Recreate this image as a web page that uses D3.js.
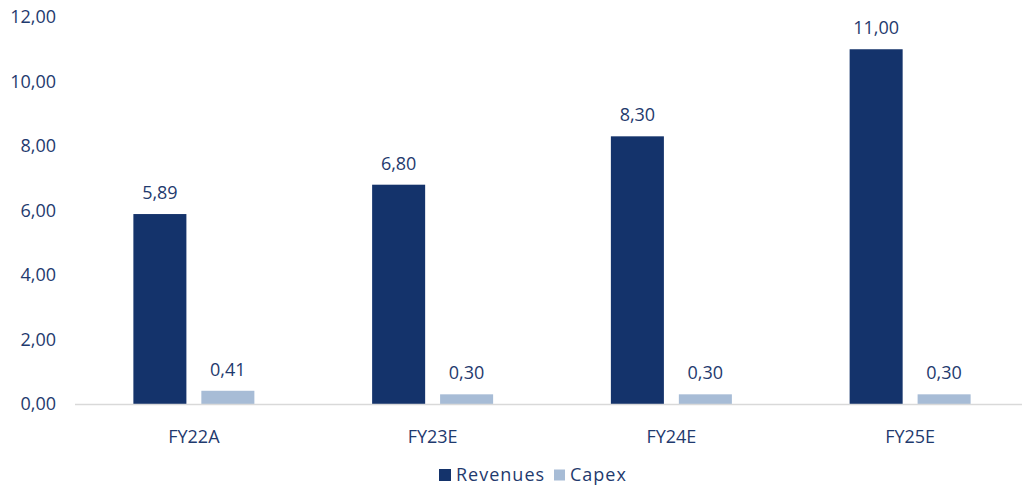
<!DOCTYPE html>
<html>
<head>
<meta charset="utf-8">
<script src="https://cdn.jsdelivr.net/npm/d3@7/dist/d3.min.js"></script>
<style>
  body { margin: 0; background: #fff; }
  text { font-family: "Open Sans", Lato, sans-serif; fill: #1f3a6e; }
</style>
</head>
<body>
<div id="chart"></div>
<script>
const categories = ['FY22A', 'FY23E', 'FY24E', 'FY25E'];
const seriesNames = ['Revenues', 'Capex'];
const revenues = [5.89, 6.80, 8.30, 11.00];
const capex = [0.41, 0.30, 0.30, 0.30];
const yTicks = [0, 2, 4, 6, 8, 10, 12];
const colors = { Revenues: '#14336b', Capex: '#a7bcd6' };

const W = 1022, H = 490;
const fmt = v => d3.format('.2f')(v).replace('.', ',');

const svg = d3.select('#chart').append('svg')
    .attr('width', W)
    .attr('height', H);

const x0 = d3.scaleBand()
    .domain(categories)
    .range([74.5, 1029.5])
    .padding(0);

const groupW = 121;
const x1 = d3.scaleBand()
    .domain(seriesNames)
    .range([-groupW / 2, groupW / 2])
    .paddingInner(0.22)
    .paddingOuter(0);

const y = d3.scaleLinear()
    .domain([0, 12])
    .range([404, 17]);

// y labels
svg.append('g')
  .selectAll('text')
  .data(yTicks)
  .join('text')
    .attr('x', 56)
    .attr('y', d => y(d))
    .attr('dy', '0.35em')
    .attr('text-anchor', 'end')
    .attr('font-size', 18)
    .text(fmt);

const rows = categories.map((c, i) => ({
  cat: c,
  vals: [
    { key: 'Revenues', v: revenues[i] },
    { key: 'Capex', v: capex[i] }
  ]
}));

const groups = svg.append('g')
  .selectAll('g')
  .data(rows)
  .join('g')
    .attr('transform', d => `translate(${x0(d.cat) + x0.bandwidth() / 2},0)`);

groups.selectAll('rect')
  .data(d => d.vals)
  .join('rect')
    .attr('x', d => x1(d.key))
    .attr('width', x1.bandwidth())
    .attr('y', d => y(d.v))
    .attr('height', d => y(0) - y(d.v))
    .attr('fill', d => colors[d.key]);

groups.selectAll('text.val')
  .data(d => d.vals)
  .join('text')
    .attr('class', 'val')
    .attr('x', d => x1(d.key) + x1.bandwidth() / 2)
    .attr('y', d => y(d.v) - 15)
    .attr('text-anchor', 'middle')
    .attr('font-size', 18)
    .text(d => fmt(d.v));

// baseline
svg.append('line')
    .attr('x1', 75)
    .attr('x2', W)
    .attr('y1', y(0) + 0.5)
    .attr('y2', y(0) + 0.5)
    .attr('stroke', '#d9d9d9')
    .attr('stroke-width', 1.5);

// x labels
svg.append('g')
  .selectAll('text')
  .data(categories)
  .join('text')
    .attr('x', d => x0(d) + x0.bandwidth() / 2)
    .attr('y', 437)
    .attr('dy', '0.35em')
    .attr('text-anchor', 'middle')
    .attr('font-size', 18)
    .text(d => d);

// legend
const legend = svg.append('g');
const legendItems = [
  { key: 'Revenues', x: 439, size: 12 },
  { key: 'Capex', x: 554, size: 11 }
];
legend.selectAll('rect')
  .data(legendItems)
  .join('rect')
    .attr('x', d => d.x)
    .attr('y', d => 475 - d.size / 2)
    .attr('width', d => d.size)
    .attr('height', d => d.size)
    .attr('fill', d => colors[d.key]);
legend.selectAll('text')
  .data(legendItems)
  .join('text')
    .attr('x', d => d.x + d.size + 5)
    .attr('y', 475)
    .attr('dy', '0.35em')
    .attr('font-size', 18)
    .attr('letter-spacing', 1)
    .text(d => d.key);
</script>
</body>
</html>
